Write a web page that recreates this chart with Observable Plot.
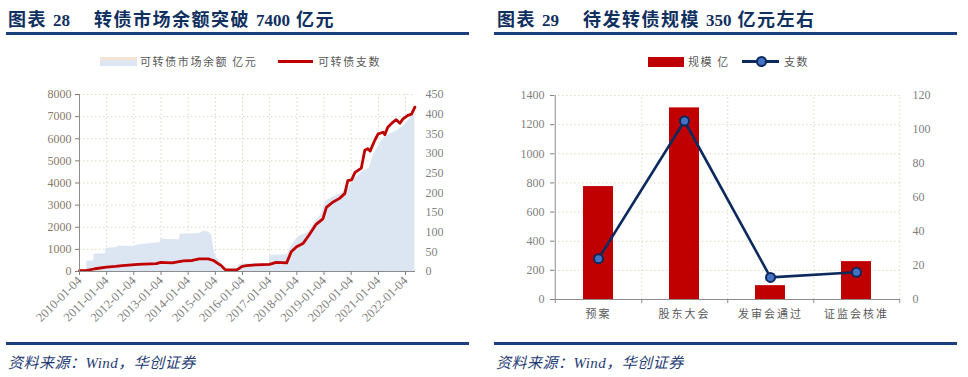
<!DOCTYPE html>
<html><head><meta charset="utf-8">
<script src="https://cdn.jsdelivr.net/npm/d3@7"></script>
<script src="https://cdn.jsdelivr.net/npm/@observablehq/plot@0.6"></script>
<style>
body{margin:0;background:#fff;}
#page{position:relative;width:968px;height:377px;overflow:hidden;background:#fff;font-family:"Liberation Serif","Noto Sans CJK SC",serif;}
.title{position:absolute;top:5px;font-size:18px;font-weight:bold;color:#10305f;white-space:pre;letter-spacing:1.5px;font-family:"Liberation Serif","Noto Sans CJK SC";}
.title .num{font-size:17px;letter-spacing:0;}
.rule{position:absolute;height:3px;background:#1a3f7c;}
.src{position:absolute;top:351px;font-size:15px;font-style:italic;color:#1f3c75;white-space:pre;letter-spacing:0.5px;}
.lg{position:absolute;}
.lgt{position:absolute;top:53px;font-size:11px;line-height:16px;color:#595959;font-family:"Noto Sans CJK SC";letter-spacing:1.6px;white-space:pre;}
.chart{position:absolute;top:84px;}
.chart svg{overflow:visible;}
#right g[aria-label="x-axis tick label"]{letter-spacing:2px;}
</style></head>
<body><div id="page">
<div class="title" style="left:8px">图表 <span class="num">28</span>    转债市场余额突破 <span class="num">7400</span> 亿元</div>
<div class="title" style="left:497px">图表 <span class="num">29</span>    待发转债规模 <span class="num">350</span> 亿元左右</div>
<div class="rule" style="left:6px;width:463px;top:32px"></div>
<div class="rule" style="left:494px;width:463px;top:32px"></div>

<div class="lg" style="left:100px;top:57px;width:37px;height:9px;background:linear-gradient(#fbe2cf,#dce6f2 60%);"></div>
<div class="lgt" style="left:140px">可转债市场余额 亿元</div>
<div class="lg" style="left:278px;top:60px;width:35px;height:3px;background:#c00000;"></div>
<div class="lgt" style="left:318px">可转债支数</div>

<div class="lg" style="left:648px;top:57px;width:36px;height:10px;background:#c00000;"></div>
<div class="lgt" style="left:688px">规模 亿</div>
<div class="lg" style="left:742px;top:60px;width:37px;height:3px;background:#0c2a5e;"></div>
<div class="lg" style="left:756px;top:56px;width:7px;height:7px;border-radius:50%;background:#4472c4;border:2px solid #0c2a5e;"></div>
<div class="lgt" style="left:784px">支数</div>

<div id="left" class="chart" style="left:0px"></div>
<div id="right" class="chart" style="left:490px"></div>

<div class="rule" style="left:6px;width:463px;top:342px"></div>
<div class="rule" style="left:494px;width:463px;top:342px"></div>
<div class="src" style="left:8px">资料来源：Wind，华创证券</div>
<div class="src" style="left:496px">资料来源：Wind，华创证券</div>
</div>
<script>
// ---- Chart 28 data ----
const balanceDates = ["2010-01-04","2010-04-10","2010-04-12","2010-07-15","2010-07-20","2010-12-20","2010-12-25","2011-06-01","2011-06-05","2011-12-01","2012-01-01","2012-03-01","2012-06-01","2012-10-01","2012-12-20","2013-01-05","2013-04-01","2013-09-10","2013-09-15","2014-03-01","2014-06-01","2014-08-01","2014-10-01","2014-11-15","2014-12-20","2015-01-20","2015-03-01","2015-04-01","2015-05-15","2015-11-01","2015-11-20","2016-03-01","2016-12-31","2017-01-05","2017-09-01","2017-10-15","2017-12-01","2018-02-01","2018-06-01","2018-09-01","2018-12-01","2019-02-01","2019-06-01","2019-09-01","2019-12-01","2020-03-01","2020-06-01","2020-09-01","2020-11-01","2021-01-01","2021-04-01","2021-07-01","2021-10-01","2022-01-01","2022-03-01","2022-05-10"];
const balanceValues = [100,100,480,480,780,800,1050,1080,1150,1130,1120,1200,1230,1280,1300,1480,1450,1430,1680,1690,1720,1820,1780,1650,900,620,500,400,100,100,330,350,360,720,770,1100,1350,1600,1750,2200,2600,3200,3400,3550,3800,4200,4500,4650,5300,5650,6100,6250,6400,6650,6900,7380];
const countDates = ["2010-01-04","2010-04-01","2010-08-01","2011-01-01","2011-05-01","2011-08-01","2012-03-01","2012-11-01","2013-01-01","2013-06-01","2013-11-01","2014-03-01","2014-06-01","2014-10-01","2014-12-10","2015-02-10","2015-03-25","2015-05-15","2015-10-20","2016-01-01","2016-03-01","2016-07-01","2017-01-01","2017-04-01","2017-08-20","2017-10-20","2018-01-01","2018-04-01","2018-06-15","2018-09-20","2018-12-20","2019-02-05","2019-05-01","2019-08-01","2019-10-10","2019-11-20","2020-01-10","2020-02-25","2020-05-20","2020-07-05","2020-08-15","2020-09-15","2020-11-15","2021-01-01","2021-03-10","2021-04-01","2021-05-10","2021-07-20","2021-09-01","2021-10-20","2021-12-01","2022-02-05","2022-03-25","2022-05-10"];
const countValues = [2,2,7,11,13,15,18,20,23,22,27,28,32,32,28,20,15,5,4,13,15,17,18,23,22,50,63,72,92,120,134,163,176,186,198,231,233,252,263,308,312,306,333,350,354,348,367,380,386,377,388,397,400,418];
const yearTicks = ["2010-01-04","2011-01-04","2012-01-04","2013-01-04","2014-01-04","2015-01-04","2016-01-04","2017-01-04","2018-01-04","2019-01-04","2020-01-04","2021-01-04","2022-01-04"];
const balanceTicks = [0,1000,2000,3000,4000,5000,6000,7000,8000];
const countTicks = [0,50,100,150,200,250,300,350,400,450];

// ---- Chart 29 data ----
const stages = ["预案","股东大会","发审会通过","证监会核准"];
const stageSize = [775,1315,95,260];
const stageCount = [24,105,13,16];
const sizeTicks = [0,200,400,600,800,1000,1200,1400];
const stageCountTicks = [0,20,40,60,80,100,120];

const parse = d3.utcParse("%Y-%m-%d");
const fmt = d3.utcFormat("%Y-%m-%d");
const bal = balanceDates.map((d,i)=>({date:parse(d), v:balanceValues[i]}));
const cnt = countDates.map((d,i)=>({date:parse(d), v:countValues[i]}));
const yt = yearTicks.map(parse);
const k1 = 8000/450;
const x0 = parse("2010-01-04"), x1 = parse("2022-05-18");
const gridStyle = {stroke:"#dcd9c4", strokeOpacity:1, strokeDasharray:"1.5,2.5", strokeWidth:1};
const axisColor = "#8c8c8c";

const left = Plot.plot({
  width:470, height:256, marginLeft:79, marginRight:55, marginTop:10, marginBottom:69,
  style:{fontFamily:"Liberation Serif", fontSize:"12px", color:"#7f7f7f", background:"transparent"},
  x:{type:"utc", domain:[x0,x1]},
  y:{domain:[0,8000]},
  marks:[
    Plot.gridY(balanceTicks.slice(1), gridStyle),
    Plot.gridX(yt.slice(1), {...gridStyle, y1:0, y2:8000}),
    Plot.areaY(bal, {x:"date", y:"v", fill:"#dce6f2"}),
    Plot.lineY(cnt, {x:"date", y:d=>d.v*k1, stroke:"#c00000", strokeWidth:2.8}),
    Plot.ruleX([x0], {y1:0, y2:8000, stroke:axisColor}),
    Plot.ruleY([0], {stroke:axisColor}),
    Plot.axisY(balanceTicks, {anchor:"left", tickSize:4, tickPadding:4, label:null, tickFormat:d=>String(d), color:"#8a7a6a"}),
    Plot.axisY(countTicks.map(v=>v*k1), {anchor:"right", tickSize:0, tickPadding:10, label:null, tickFormat:d=>String(Math.round(d/k1))}),
    Plot.axisX(yt, {anchor:"bottom", tickSize:4, tickPadding:3, tickRotate:-45, tickFormat:fmt, label:null, fontSize:12.5})
  ]
});
document.getElementById("left").append(left);

const k2 = 1400/120;
const rows = stages.map((s,i)=>({s, v:stageSize[i], n:stageCount[i]}));
const bw = (478-64-68)/4;
const right = Plot.plot({
  width:478, height:256, marginLeft:64, marginRight:68, marginTop:11, marginBottom:41,
  style:{fontFamily:"Liberation Serif", fontSize:"12px", color:"#7f7f7f", background:"transparent"},
  x:{type:"band", domain:stages, padding:0},
  y:{domain:[0,1400]},
  marks:[
    Plot.gridY(sizeTicks.slice(1), gridStyle),
    Plot.ruleX(stages, {x:d=>d, dx:bw/2, y1:0, y2:1400, ...gridStyle}),
    Plot.barY(rows, {x:"s", y:"v", fill:"#c00000", insetLeft:28, insetRight:28}),
    Plot.line(rows, {x:"s", y:d=>d.n*k2, stroke:"#0c2a5e", strokeWidth:2.6}),
    Plot.dot(rows, {x:"s", y:d=>d.n*k2, r:4.5, fill:"#4472c4", stroke:"#0c2a5e", strokeWidth:2}),
    Plot.ruleX(stages.slice(0,1), {x:d=>d, dx:-bw/2, y1:-28, y2:1400, stroke:axisColor}),
    Plot.ruleX(stages, {x:d=>d, dx:bw/2, y1:0, y2:-28, stroke:axisColor}),
    Plot.ruleY([0], {stroke:axisColor}),
    Plot.axisY(sizeTicks, {anchor:"left", tickSize:4, tickPadding:6, label:null, tickFormat:d=>String(d)}),
    Plot.axisY(stageCountTicks.map(v=>v*k2), {anchor:"right", tickSize:0, tickPadding:12, label:null, tickFormat:d=>String(Math.round(d/k2))}),
    Plot.axisX(stages, {anchor:"bottom", tickSize:0, tickPadding:11, label:null, fontFamily:"Noto Sans CJK SC", fontSize:11, color:"#595959"})
  ]
});
document.getElementById("right").append(right);
</script>
</body></html>
